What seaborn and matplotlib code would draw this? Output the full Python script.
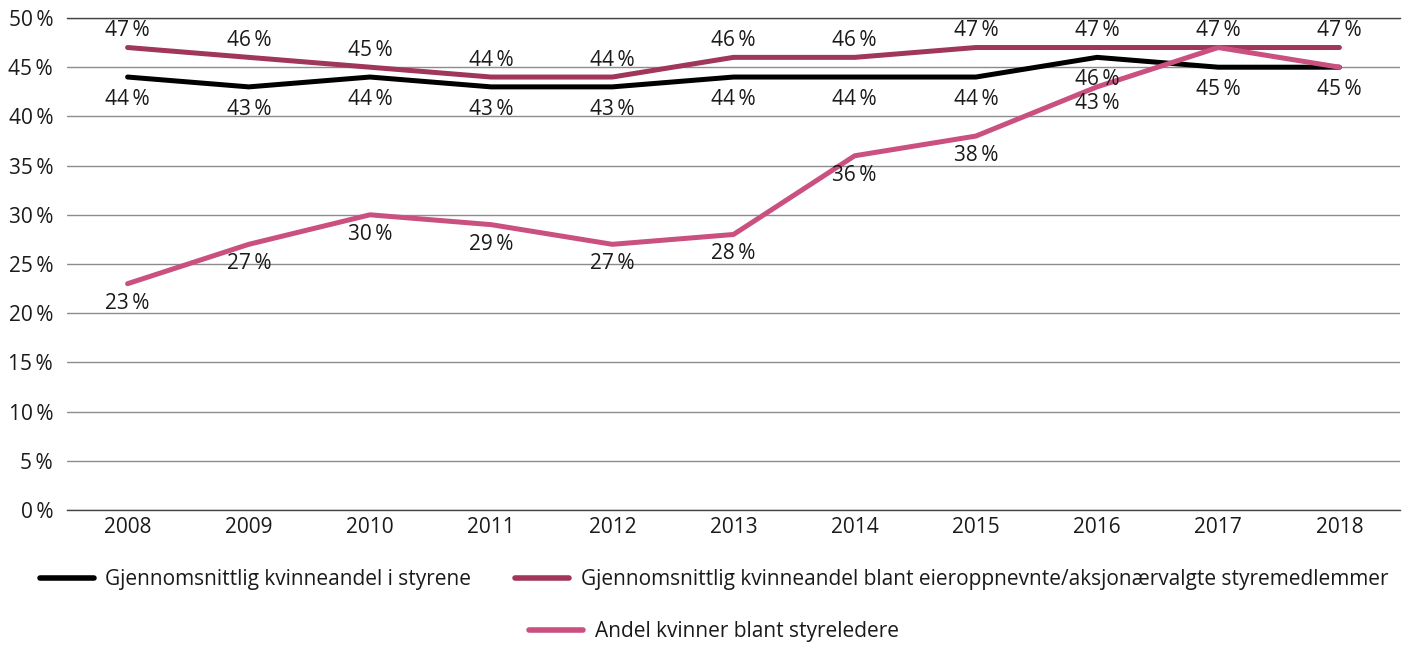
import matplotlib
matplotlib.use("Agg")
import matplotlib.pyplot as plt
import seaborn as sns
import pandas as pd
from matplotlib.ticker import FuncFormatter
from matplotlib.lines import Line2D

years = ["2008", "2009", "2010", "2011", "2012", "2013", "2014", "2015", "2016", "2017", "2018"]
series_names = [
    "Gjennomsnittlig kvinneandel i styrene",
    "Gjennomsnittlig kvinneandel blant eieroppnevnte/aksjonærvalgte styremedlemmer",
    "Andel kvinner blant styreledere",
]
avg_all = [44, 43, 44, 43, 43, 44, 44, 44, 46, 45, 45]
avg_owner = [47, 46, 45, 44, 44, 46, 46, 47, 47, 47, 47]
chairs = [23, 27, 30, 29, 27, 28, 36, 38, 43, 47, 45]
colors = ["#000000", "#A0365A", "#C9507F"]

sns.set_theme(style="white")
plt.rcParams["font.family"] = ["Open Sans", "DejaVu Sans"]

FS = 15.0

rows = []
for name, vals in zip(series_names, [avg_all, avg_owner, chairs]):
    for i, (y, v) in enumerate(zip(years, vals)):
        rows.append({"idx": i, "year": y, "value": v, "series": name})
df = pd.DataFrame(rows)

fig = plt.figure(figsize=(14.05, 6.46), dpi=100)
ax = fig.add_axes([67 / 1405, 1 - 510 / 646, (1400 - 67) / 1405, (510 - 18) / 646])

sns.lineplot(data=df, x="idx", y="value", hue="series", hue_order=series_names,
             palette=colors, linewidth=3.6, ax=ax, legend=False, zorder=3)
for ln in ax.get_lines():
    ln.set_solid_capstyle("round")

ax.set_xlim(-0.5, len(years) - 0.5)
ax.set_ylim(0, 50)
ax.set_yticks(range(0, 51, 5))
ax.yaxis.set_major_formatter(FuncFormatter(lambda v, p: f"{int(v)}\u2009%"))
ax.set_xticks(range(len(years)))
ax.set_xticklabels(years)
ax.tick_params(axis="y", labelsize=FS, colors="#1a1a1a", length=0, pad=10)
ax.tick_params(axis="x", labelsize=FS, colors="#1a1a1a", length=0, pad=5)
ax.yaxis.grid(True, color="#8c8c8c", linewidth=1)
ax.set_axisbelow(True)
ax.set_xlabel("")
ax.set_ylabel("")
for s in ["left", "right"]:
    ax.spines[s].set_visible(False)
for s in ["top", "bottom"]:
    ax.spines[s].set_color("#444444")
    ax.spines[s].set_linewidth(1)

# label offsets in points (negative = below)
offsets = [
    [-16] * 11,
    [12] * 11,
    [-14, -14, -14, -14, -14, -14, -14, -14, -12, 12, -16],
]
drawn = set()
for si, vals in enumerate([avg_all, avg_owner, chairs]):
    for i, v in enumerate(vals):
        key = (i, v, offsets[si][i])
        if key in drawn:
            continue
        drawn.add(key)
        ax.annotate(f"{v}\u2009%", (i, v), xytext=(0, offsets[si][i]), textcoords="offset points",
                    ha="center", va="center", fontsize=FS, color="#1a1a1a", zorder=4)

handles = [Line2D([], [], color=c, linewidth=4, solid_capstyle="round") for c in colors]
cx = 714 / 1405
leg1 = fig.legend(handles[:2], series_names[:2], loc="center", bbox_to_anchor=(cx, 1 - 580 / 646),
                  ncol=2, frameon=False, fontsize=FS, handlelength=2.6, columnspacing=2.1,
                  handletextpad=0.55, borderpad=0, borderaxespad=0)
leg2 = fig.legend(handles[2:], series_names[2:], loc="center", bbox_to_anchor=(cx, 1 - 632 / 646),
                  ncol=1, frameon=False, fontsize=FS, handlelength=2.6, handletextpad=0.55,
                  borderpad=0, borderaxespad=0)
for leg in (leg1, leg2):
    for t in leg.get_texts():
        t.set_color("#1a1a1a")

fig.savefig("out.png", dpi=100)
